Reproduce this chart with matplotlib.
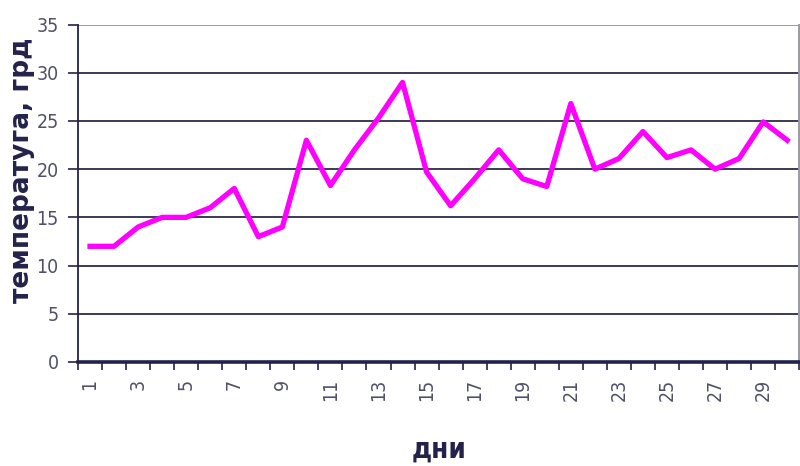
import numpy as np
import matplotlib
matplotlib.use('Agg')
import matplotlib.pyplot as plt

# daily temperature readings
days = list(range(1, 31))
temps = [12, 12, 14, 15, 15, 16, 18, 13, 14, 23,
         18.3, 22, 25.3, 29, 19.7, 16.2, 19, 22, 19, 18.2,
         26.8, 20, 21.1, 23.9, 21.2, 22, 20, 21.1, 24.9, 23]
y_ticks = [0, 5, 10, 15, 20, 25, 30, 35]
x_tick_days = list(range(1, 31, 2))

ink = '#22224a'
grid_col = '#3a3a55'

fig = plt.figure(figsize=(8, 4.66), dpi=100)
ax = fig.add_axes([0.0975, 0.2232, 0.9015, 0.7242])

for v in y_ticks[1:-1]:
    ax.axhline(v, color=grid_col, lw=1.4, zorder=1)
ax.axhline(35, color='#9a9aa4', lw=1.4, zorder=1)

ax.plot(days, temps, color='#ff00ff', lw=3.8, solid_joinstyle='round', zorder=3)

ax.set_xlim(0.5, 30.5)
ax.set_ylim(0, 35)

ax.set_yticks(y_ticks)
ax.set_yticklabels([str(v) for v in y_ticks])
ax.set_xticks(np.arange(0.5, 31, 1))
ax.set_xticklabels([])
ax.set_xticks(x_tick_days, minor=True)
ax.set_xticklabels([str(d) for d in x_tick_days], minor=True, rotation=90)

ax.tick_params(axis='y', direction='out', length=7, width=1.2, color=ink,
               labelsize=14, labelcolor='#50506a', pad=7)
ax.tick_params(axis='x', which='major', direction='out', length=6, width=1.2, color=ink)
ax.tick_params(axis='x', which='minor', length=0, labelsize=14,
               labelcolor='#50506a', pad=12)
for lab in ax.get_yticklabels() + ax.get_xticklabels(minor=True):
    lab.set_family('DejaVu Sans')
    lab.set_stretch('condensed')
    lab.set_weight('light')

ax.spines['left'].set_color(ink)
ax.spines['left'].set_linewidth(1.3)
ax.spines['bottom'].set_color(ink)
ax.spines['bottom'].set_linewidth(2.6)
ax.spines['top'].set_visible(False)
ax.spines['right'].set_color('#9a9aa4')
ax.spines['right'].set_linewidth(1.4)

fig.text(0.028, 0.635, 'температуга, грд', rotation=90, ha='center', va='center',
         fontsize=19, fontweight='bold', fontstretch='normal', color=ink,
         family='DejaVu Sans')
fig.text(0.549, 0.035, 'дни', ha='center', va='center', fontsize=20,
         fontweight='bold', fontstretch='condensed', color=ink,
         family='DejaVu Sans')

fig.savefig('out.png', dpi=100)
